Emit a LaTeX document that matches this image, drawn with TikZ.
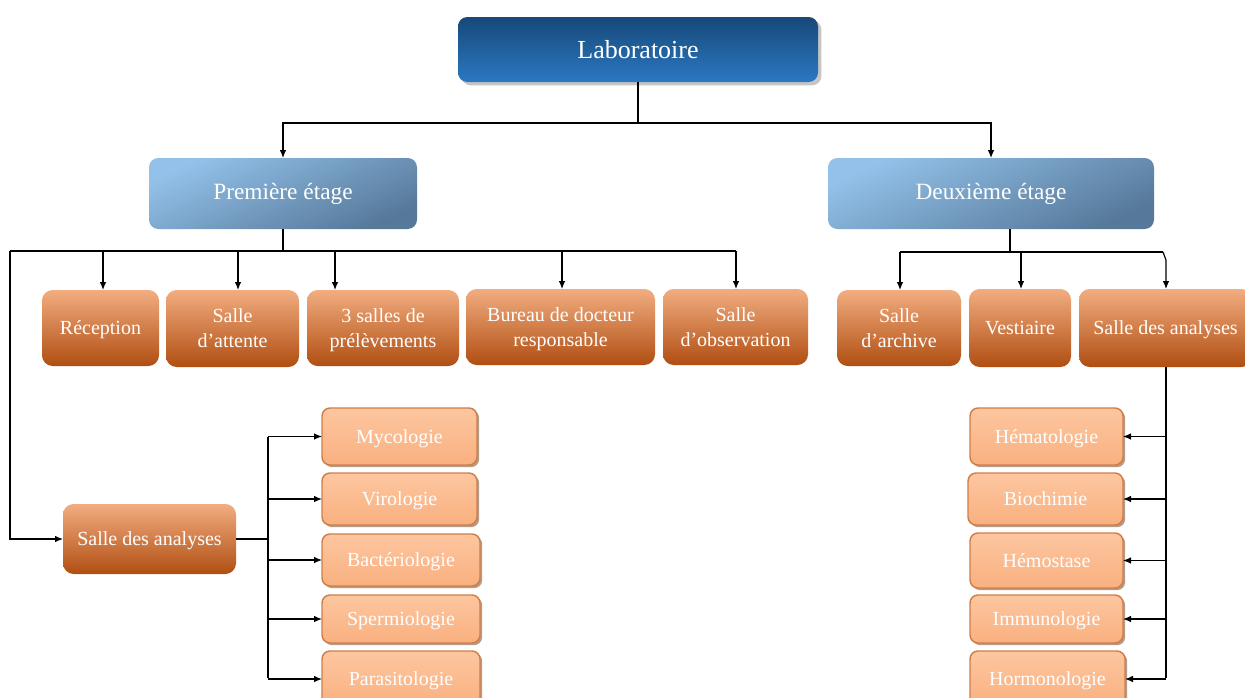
\documentclass[tikz,border=0pt]{standalone}
\usepackage{fontspec}
\setmainfont{Liberation Serif}
\usetikzlibrary{arrows.meta,shadows}
\definecolor{labtop}{HTML}{174979}
\definecolor{labbot}{HTML}{2B78C2}
\definecolor{ettop}{HTML}{93C1E9}
\definecolor{etbot}{HTML}{56799A}
\definecolor{rmtop}{HTML}{F2AD80}
\definecolor{rmmid}{HTML}{E9823D}
\definecolor{rmbot}{HTML}{B04E12}
\definecolor{lbtop}{HTML}{FDC6A0}
\definecolor{lbbot}{HTML}{F9B07F}
\definecolor{lbedge}{HTML}{D07E48}
\definecolor{lbshad}{HTML}{7A4A2A}
\newcommand\bx[7]{\node[#1, minimum width={(#5-#3)*0.75pt}, minimum height={(#6-#4)*0.75pt}] (#2) at ({(#3+#5)/2},{(#4+#6)/2}) {#7};}
\tikzset{
  base/.style={inner sep=0pt, outer sep=0pt, align=center, text=white},
  topbox/.style={base, rounded corners=7pt, top color=labtop, bottom color=labbot,
    drop shadow={opacity=0.45, shadow xshift=2.5pt, shadow yshift=-2.5pt},
    font=\fontsize{19.5}{22}\selectfont},
  etbox/.style={base, rounded corners=7pt, top color=ettop, bottom color=etbot, shading angle=25,
    font=\fontsize{17.5}{20}\selectfont},
  roombox/.style={base, rounded corners=8pt, top color=rmtop, middle color=rmmid, bottom color=rmbot,
    font=\fontsize{15}{18.75}\selectfont, text depth=0pt},
  labbox/.style={base, rounded corners=6pt, top color=lbtop, bottom color=lbbot, draw=lbedge, line width=1.1pt,
    drop shadow={fill=lbshad, opacity=0.55, shadow xshift=1.6pt, shadow yshift=-1.6pt},
    font=\fontsize{15}{18}\selectfont, text depth=0pt},
  conn/.style={draw=black, line width=0.9pt},
  arr/.style={conn, -{Latex[length=6pt,width=5pt]}}
}
\begin{document}
\begin{tikzpicture}[x=0.75pt,y=-0.75pt]
\useasboundingbox[fill=white] (0,0) rectangle (1245,697);
% top levels
\bx{topbox}{lab}{458}{17}{818}{82}{Laboratoire}
\bx{etbox}{prem}{149}{158}{417}{229}{Première étage}
\bx{etbox}{deux}{828}{158}{1154}{229}{Deuxième étage}
% level 2 left
\bx{roombox}{rec}{42}{290}{159}{366}{Réception}
\bx{roombox}{att}{166}{290}{299}{367}{Salle\\d’attente}
\bx{roombox}{pre}{307}{290}{459}{366}{3 salles de\\prélèvements}
\bx{roombox}{bur}{466}{289}{655}{365}{Bureau de docteur\\responsable}
\bx{roombox}{obs}{663}{289}{808}{365}{Salle\\d’observation}
% level 2 right
\bx{roombox}{arc}{837}{290}{961}{366}{Salle\\d’archive}
\bx{roombox}{ves}{969}{289}{1071}{367}{Vestiaire}
\bx{roombox}{sar}{1079}{289}{1252}{367}{Salle des analyses}
% left analyses
\bx{roombox}{sal}{63}{504}{236}{574}{Salle des analyses}
\bx{labbox}{myc}{322}{408}{477}{465}{Mycologie}
\bx{labbox}{vir}{322}{473}{477}{525}{Virologie}
\bx{labbox}{bac}{322}{534}{480}{586}{Bactériologie}
\bx{labbox}{spe}{322}{595}{480}{643}{Spermiologie}
\bx{labbox}{par}{322}{651}{480}{707}{Parasitologie}
% right analyses
\bx{labbox}{hema}{970}{408}{1123}{465}{Hématologie}
\bx{labbox}{bio}{968}{473}{1123}{525}{Biochimie}
\bx{labbox}{hemo}{970}{533}{1123}{588}{Hémostase}
\bx{labbox}{imm}{970}{595}{1123}{643}{Immunologie}
\bx{labbox}{hor}{970}{651}{1125}{707}{Hormonologie}
% connectors: top
\coordinate (j1) at (638,123);
\draw[conn] (lab.south) -- (j1);
\draw[arr] (j1) -| (prem.north);
\draw[arr] (j1) -| (deux.north);
% Premiere etage
\coordinate (j2) at (283,251);
\coordinate (cl) at (10,251);
\coordinate (cr) at (736,251);
\coordinate (d1) at (103,251);
\coordinate (d2) at (238,251);
\coordinate (d3) at (335,251);
\coordinate (d4) at (562,251);
\draw[conn] (j2 |- prem.south) -- (j2);
\draw[conn] (cl) -- (cr);
\draw[arr] (d1) -- (d1 |- rec.north);
\draw[arr] (d2) -- (d2 |- att.north);
\draw[arr] (d3) -- (d3 |- pre.north);
\draw[arr] (d4) -- (d4 |- bur.north);
\draw[arr] (cr) -- (cr |- obs.north);
\draw[arr] (cl) |- (sal.west);
% Deuxieme etage
\coordinate (j3) at (1010,252);
\coordinate (e1) at (900,252);
\coordinate (e2) at (1021,252);
\coordinate (e3) at (1163,252);
\coordinate (e3b) at (1166,260);
\draw[conn] (j3 |- deux.south) -- (j3);
\draw[conn] (e1) -- (e3);
\draw[arr] (e1) -- (e1 |- arc.north);
\draw[arr] (e2) -- (e2 |- ves.north);
\draw[arr] (e3) -- (e3b) -- (e3b |- sar.north);
% left analyses tree
\coordinate (k1) at (268,539);
\coordinate (kt) at (268,437);
\coordinate (kb) at (268,678);
\draw[conn] (sal.east) -- (k1);
\draw[conn] (kt) -- (kb);
\foreach \n in {myc,vir,bac,spe,par}{
  \draw[arr] (kt |- \n.west) -- (\n.west);
}
% right analyses tree
\coordinate (m1) at (1166,367);
\coordinate (mb) at (1166,678);
\draw[conn] (m1) -- (mb);
\foreach \n in {hema,bio,hemo,imm,hor}{
  \draw[arr] (m1 |- \n.east) -- (\n.east);
}
\end{tikzpicture}
\end{document}
